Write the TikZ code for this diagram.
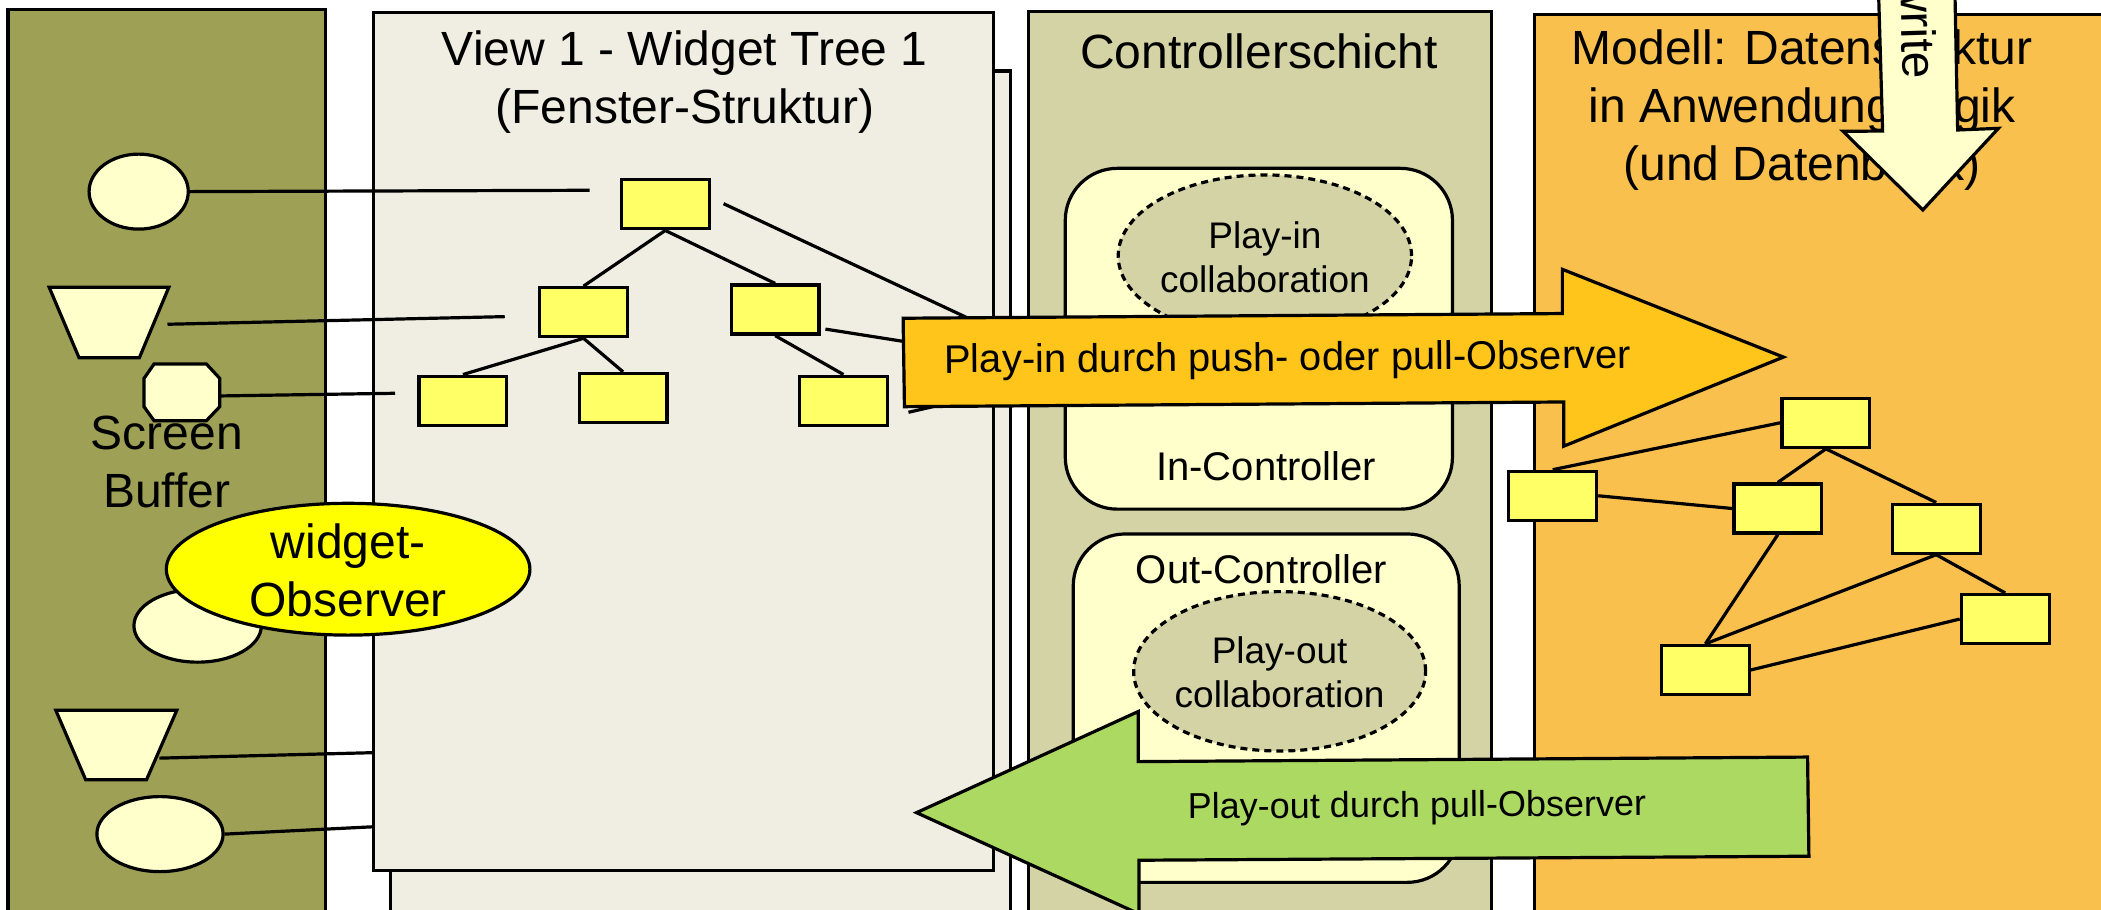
\documentclass[tikz,border=0pt]{standalone}
\usepackage{fontspec}
\setmainfont{Liberation Sans}
\usetikzlibrary{shapes.geometric}
\definecolor{sbolive}{HTML}{9EA055}
\definecolor{viewbg}{HTML}{F0EDE3}
\definecolor{ctrlbg}{HTML}{D3D3A5}
\definecolor{modelbg}{HTML}{F9C04E}
\definecolor{pinorange}{HTML}{FFC51A}
\definecolor{poutgreen}{HTML}{ACD962}
\definecolor{pale}{HTML}{FFFFCC}
\definecolor{boxyellow}{HTML}{FFFF66}
\definecolor{obsyellow}{HTML}{FFFF00}
\begin{document}
\begin{tikzpicture}[x=0.67pt,y=-0.67pt,line width=1.6pt,
  title/.style={font=\fontsize{24}{29}\selectfont,align=center,inner sep=0pt},
  midtext/.style={font=\fontsize{20}{24}\selectfont,align=center,inner sep=0pt},
  coltext/.style={font=\fontsize{18.5}{22}\selectfont,align=center,inner sep=0pt},
  wbox/.style={draw,fill=boxyellow,minimum width=43.9pt,minimum height=24.5pt,inner sep=0pt},
  pshape/.style={draw,fill=pale,inner sep=0pt},
  collab/.style={draw,ellipse,fill=ctrlbg,dash pattern=on 3.5pt off 2.5pt,inner sep=0pt},
  ctrlbox/.style={draw,fill=pale,rounded corners=26pt,inner sep=0pt}]
\useasboundingbox (0,0) rectangle (1568,679);
\clip (0,0) rectangle (1568,679);
\fill[white] (0,0) rectangle (1568,679);
% panels
\draw[fill=sbolive] (6,7) rectangle (243,700);
\draw[fill=viewbg] (291.5,53) rectangle (754,700);
\draw[fill=viewbg] (279,9.5) rectangle (741.5,649.5);
\draw[fill=ctrlbg] (767.5,8.5) rectangle (1113,700);
\draw[fill=modelbg] (1145,11) rectangle (1620,700);
% titles
\node[title] (viewtitle) at (511,61) {View 1 - Widget Tree 1\\(Fenster-Struktur)};
\node[title] (ctitle) at (939.5,38) {Controllerschicht};
\node[title] (mtitle) at (1345,82) {Modell: Datenstruktur\\in Anwendungslogik\\(und Datenbank)};
% controller content
\node[ctrlbox,minimum width=193.6pt,minimum height=170.4pt] (inctrl) at (939.5,252.8) {};
\node[ctrlbox,minimum width=193pt,minimum height=174.2pt] (outctrl) at (945,528.5) {};
\node[collab,minimum width=146.7pt,minimum height=81pt] (pincoll) at (944,191) {};
\node[collab,minimum width=146pt,minimum height=79.7pt] (poutcoll) at (955,501) {};
\node[coltext] (pincolltext) at (944,192) {Play-in\\collaboration};
\node[coltext] (poutcolltext) at (955,502) {Play-out\\collaboration};
\node[midtext] (inlabel) at (945,348) {In-Controller};
\node[midtext] (outlabel) at (941.5,425) {Out-Controller};
% screen buffer shapes
\node[pshape,ellipse,minimum width=49.6pt,minimum height=37.5pt] (s1) at (103.5,143) {};
\draw[fill=pale] (36.7,214.4) -- (126,214.4) -- (104,267) -- (59,267) -- cycle;
\coordinate (t1) at (125,242);
\draw[fill=pale] (115,271.6) -- (154,271.6) -- (164,282.4) -- (164,303.5) -- (154,314) -- (115,314) -- (107.5,303.5) -- (107.5,282.4) -- cycle;
\coordinate (o1) at (164,295.5);
\node[title] (sbtitle) at (124.5,345) {Screen\\Buffer};
\node[pshape,ellipse,minimum width=63.7pt,minimum height=36.4pt] (s2) at (147.5,467) {};
\node[draw,ellipse,fill=obsyellow,minimum width=181.8pt,minimum height=65.9pt,inner sep=0pt] (wo) at (259.8,424.8) {};
\node[title] (wotext) at (259.8,426) {widget-\\Observer};
\draw[fill=pale] (41.6,530) -- (132,530) -- (109.3,582) -- (64,582) -- cycle;
\coordinate (t2) at (119,565.8);
\node[pshape,ellipse,minimum width=63.1pt,minimum height=37.5pt] (s3) at (119.4,622.5) {};
% connectors from screen buffer
\coordinate (e1) at (440,142);
\coordinate (e2) at (376.7,236.3);
\coordinate (e3) at (294.8,293.5);
\coordinate (e4) at (279,561.7);
\coordinate (e5) at (279,617);
\draw (s1.east) -- (e1);
\draw (t1) -- (e2);
\draw (o1) -- (e3);
\draw (t2) -- (e4);
\draw (s3.east) -- (e5);
% widget tree
\node[wbox] (A) at (496.5,152.5) {};
\node[wbox] (B) at (435.5,233) {};
\node[wbox] (C) at (578.5,231) {};
\node[wbox] (D) at (345.5,299) {};
\node[wbox] (E) at (465,297) {};
\node[wbox] (F) at (629.5,299) {};
\draw (A.south) -- (B.north);
\draw (A.south) -- (C.north);
\draw (B.south) -- (D.north);
\draw (B.south) -- (E.north);
\draw (C.south) -- (F.north);
% lines going under the play-in arrow
\coordinate (a1) at (540,152);
\coordinate (a2) at (745,248);
\coordinate (c1) at (616,245.6);
\coordinate (c2) at (720,262);
\coordinate (f1) at (678,307.7);
\coordinate (f2) at (720,298);
\draw (a1) -- (a2);
\draw (c1) -- (c2);
\draw (f1) -- (f2);
% play-in arrow
\draw[fill=pinorange] (674,237.5) -- (1166,234) -- (1166,201) -- (1331,266.5) -- (1167,333) -- (1167,300) -- (675,303.5) -- cycle;
\node[midtext,rotate=0.4] (pintext) at (961,269) {Play-in durch push- oder pull-Observer};
% model boxes
\node[wbox] (M1) at (1362.7,315.5) {};
\node[wbox] (M2) at (1158.8,370) {};
\node[wbox] (M3) at (1326.8,379.5) {};
\node[wbox] (M4) at (1445,394.5) {};
\node[wbox] (M5) at (1496.5,462) {};
\node[wbox] (M6) at (1272.7,500) {};
\draw (M2.north) -- (M1.west);
\draw (M2.east) -- (M3.west);
\draw (M1.south) -- (M3.north);
\draw (M1.south) -- (M4.north);
\draw (M3.south) -- (M6.north);
\draw (M4.south) -- (M6.north);
\draw (M4.south) -- (M5.north);
\draw (M6.east) -- (M5.west);
% play-out arrow
\draw[fill=poutgreen] (684,606.5) -- (849.5,531) -- (849.5,568.4) -- (1349,565) -- (1350,639) -- (850,642) -- (850,682) -- cycle;
\node[font=\fontsize{18}{22}\selectfont,inner sep=0pt,rotate=0.4] (pouttext) at (1057.5,603) {Play-out durch pull-Observer};
% write arrow
\draw[fill=pale] (1402,-5) -- (1405,97.8) -- (1375.5,98) -- (1435,156.7) -- (1491.4,95.8) -- (1461,97) -- (1459,-5) -- cycle;
\node[title,rotate=-88.3] (writetext) at (1432,21) {write};
\end{tikzpicture}
\end{document}
